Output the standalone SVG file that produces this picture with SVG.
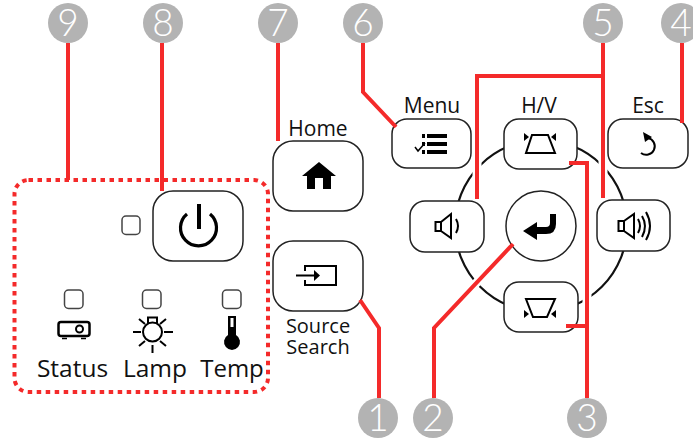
<svg xmlns="http://www.w3.org/2000/svg" width="693" height="439" viewBox="0 0 693 439">
<style>
.btn{fill:#fff;stroke:#222;stroke-width:1.5}
.led{fill:#fff;stroke:#444;stroke-width:1.5}
.ico{fill:none;stroke:#000;stroke-width:2}
.blk{fill:#000}
.lbl{font-family:"Open Sans","Noto Sans",sans-serif;fill:#111;text-anchor:middle}
.num{font-family:"Lato","Open Sans",sans-serif;font-weight:300;font-size:37px;fill:#fff;text-anchor:middle}
.bdg{fill:#b3b3b3}
.red{fill:none;stroke:#f42a2a;stroke-width:4}
.halo{fill:none;stroke:#fff;stroke-width:9}
</style>
<g id="ring"><circle cx="541" cy="226" r="86" fill="none" stroke="#111" stroke-width="2.2"/></g>
<g id="halos">
<path class="halo" d="M477 76V199M603 76V198M513 244L434 328M587 163V326"/>
</g>
<g id="panel">
<rect x="14.500" y="180" width="253.500" height="212" rx="14" fill="none" stroke="#f42a2a" stroke-width="4" stroke-dasharray="4.500 4.500"/>
</g>
<g id="power"><rect class="btn" x="153" y="191" width="90" height="70" rx="20"/>
<path d="M187 214A18 18 0 1 0 210 214" fill="none" stroke="#000" stroke-width="3.200"/><path d="M199 204V229" stroke="#000" stroke-width="4" fill="none"/></g>
<g id="led-power"><rect class="led" x="122" y="216" width="18" height="18.500" rx="4"/></g>
<g id="status"><rect class="led" x="64.500" y="290" width="18.500" height="18.500" rx="4"/>
<rect x="58.500" y="322" width="31" height="14" rx="2.500" fill="none" stroke="#000" stroke-width="2.500"/><circle cx="79.500" cy="329" r="3.500" fill="none" stroke="#000" stroke-width="2"/><path d="M62 338.500h5M81 338.500h5" stroke="#000" stroke-width="1.500"/>
<text class="lbl" x="72.500" y="377" font-size="24.500">Status</text></g>
<g id="lamp"><rect class="led" x="142.500" y="290" width="18.500" height="18.500" rx="4"/>
<circle cx="152.500" cy="332" r="9.500" class="ico" stroke-width="2.800"/><path class="ico" d="M148 323V317.500H157V323M133 332H141M164 332H173M152.500 345V353M139 319L145 324M166 319L160 324M139 346L145 341M166 346L160 341" stroke-width="2.800"/>
<text class="lbl" x="155" y="377" font-size="24.500">Lamp</text></g>
<g id="temp"><rect class="led" x="222.500" y="290" width="18.500" height="18.500" rx="4"/>
<path class="blk" d="M228 316H236V335A8 8 0 1 1 228 335Z"/><rect x="230.500" y="318" width="3" height="9" fill="#fff"/>
<text class="lbl" x="232" y="377" font-size="24">Temp</text></g>
<g id="home"><rect class="btn" x="273" y="141" width="90" height="70" rx="20"/>
<path class="blk" d="M302 176L319 162L336 176H331V189H323V178H315V189H307V176Z"/>
<text class="lbl" x="318" y="136" font-size="21">Home</text></g>
<g id="source"><rect class="btn" x="273" y="241" width="90" height="70" rx="20"/>
<path class="ico" stroke-width="2.200" d="M305 271V266H336V285H305V280"/><path class="ico" stroke-width="2.800" d="M296 275.500H316"/><path class="blk" d="M314 270L320 275.500L314 281Z"/>
<text class="lbl" x="318" y="333" font-size="20">Source<tspan x="318" y="353.500">Search</tspan></text></g>
<g id="menu"><rect class="btn" x="392" y="119" width="79" height="49" rx="15"/>
<path class="blk" d="M427 134H447V138H427ZM422 134H425V138H422ZM427 142H447V146H427ZM422 142H425V146H422ZM427 150H447V154H427ZM422 150H425V154H422Z"/><path d="M415 147L418 151L425 143" fill="none" stroke="#000" stroke-width="1.500"/>
<text class="lbl" x="432" y="113" font-size="21">Menu</text></g>
<g id="hv"><rect class="btn" x="504" y="119" width="73" height="50" rx="15"/>
<path class="ico" d="M532 135H548L555 153H526Z"/><path class="blk" d="M524 133V141L529 137ZM556 133V141L551 137Z"/>
<text class="lbl" x="539" y="113" font-size="21">H/V</text></g>
<g id="esc"><rect class="btn" x="608" y="119" width="80" height="49" rx="15"/>
<path d="M648 138A8.500 8.500 0 1 1 641 153" fill="none" stroke="#000" stroke-width="2"/><path class="blk" d="M643 132L652 137L645 142Z"/>
<text class="lbl" x="648" y="113" font-size="21">Esc</text></g>
<g id="vol-down"><rect class="btn" x="410" y="201" width="74" height="51" rx="15"/>
<path class="ico" d="M435.500 222H441V231H435.500ZM441 222L451 214V238L441 231M456 219Q460 226 456 233"/></g>
<g id="vol-up"><rect class="btn" x="597" y="200" width="73" height="51" rx="15"/>
<path class="ico" d="M618.500 221H624V231H618.500ZM624 221L634 214V238L624 231M638 219Q642 226 638 233M642 216Q648 226 642 237M646 212Q654 226 646 240"/></g>
<g id="enter"><circle cx="541" cy="226" r="35" fill="#fff" stroke="#222" stroke-width="1.500"/>
<path class="blk" d="M523 231L537 222V227H546Q550 227 550 223V214H556V224Q556 234 546 234H537V240Z"/></g>
<g id="keystone-down"><rect class="btn" x="504" y="282" width="74" height="50" rx="15"/>
<path class="ico" d="M526 299H555L547 317H533Z"/><path class="blk" d="M524 310V318L529 314ZM556 310V318L551 314Z"/></g>
<g id="connectors">
<path class="red" d="M68 43V180M162 43V191M278 43V141M363 43V92L396 127M682 43V123M603 43V198M603 76H477V199M360 300L379 328V398M513 244L434 328V398M569 163H587V398M566 326H587"/>
</g>
<g id="badge-1"><circle class="bdg" cx="378" cy="418" r="20"/><text class="num" x="378" y="431">1</text></g>
<g id="badge-2"><circle class="bdg" cx="433" cy="418" r="20"/><text class="num" x="433" y="431">2</text></g>
<g id="badge-3"><circle class="bdg" cx="587" cy="418" r="20"/><text class="num" x="587" y="431">3</text></g>
<g id="badge-4"><circle class="bdg" cx="681" cy="23" r="20"/><text class="num" x="681" y="36">4</text></g>
<g id="badge-5"><circle class="bdg" cx="603" cy="23" r="20"/><text class="num" x="603" y="36">5</text></g>
<g id="badge-6"><circle class="bdg" cx="363" cy="23" r="20"/><text class="num" x="363" y="36">6</text></g>
<g id="badge-7"><circle class="bdg" cx="278" cy="23" r="20"/><text class="num" x="278" y="36">7</text></g>
<g id="badge-8"><circle class="bdg" cx="163" cy="23" r="20"/><text class="num" x="163" y="36">8</text></g>
<g id="badge-9"><circle class="bdg" cx="68" cy="23" r="20"/><text class="num" x="68" y="36">9</text></g>
</svg>
